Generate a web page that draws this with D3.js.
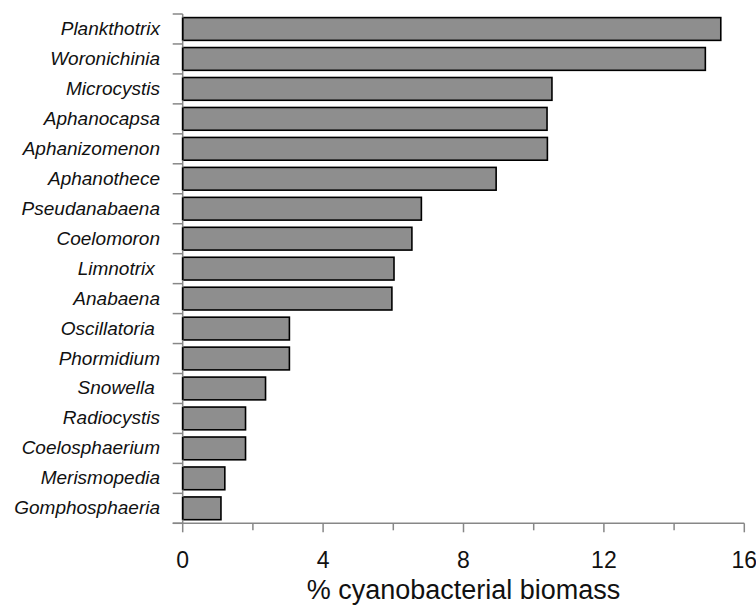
<!DOCTYPE html>
<html>
<head>
<meta charset="utf-8">
<script src="https://cdn.jsdelivr.net/npm/d3@7"></script>
<style>
  html, body { margin: 0; padding: 0; background: #fff; }
  svg { display: block; font-family: "Liberation Sans", Arial, sans-serif; }
</style>
</head>
<body>
<svg id="chart" width="756" height="606"></svg>
<script>
const categories = ["Plankthotrix", "Woronichinia", "Microcystis", "Aphanocapsa", "Aphanizomenon",
  "Aphanothece", "Pseudanabaena", "Coelomoron", "Limnotrix\u00a0", "Anabaena", "Oscillatoria\u00a0",
  "Phormidium", "Snowella\u00a0", "Radiocystis", "Coelosphaerium", "Merismopedia", "Gomphosphaeria"];
const values = [15.33, 14.89, 10.52, 10.38, 10.39, 8.93, 6.80, 6.53, 6.02, 5.96, 3.04, 3.04, 2.36, 1.79, 1.79, 1.20, 1.09];
const majorTicks = [0, 4, 8, 12, 16];
const minorTicks = [2, 6, 10, 14];
const xTitle = "% cyanobacterial biomass";

(function () {
const svg = d3.select("#chart");
const mLeft = 182.7, mRight = 744.3, mTop = 14, mBottom = 523.3;
const axisColor = "#878787";

const x = d3.scaleLinear().domain([0, 16]).range([mLeft, mRight]);
const y = d3.scaleBand().domain(categories).range([mTop, mBottom]).paddingInner(0.24).paddingOuter(0.12);

// bars
svg.append("g").selectAll("rect").data(categories).join("rect")
  .attr("x", x(0))
  .attr("y", d => y(d))
  .attr("width", (d, i) => x(values[i]) - x(0))
  .attr("height", y.bandwidth())
  .attr("fill", "#8e8e8e")
  .attr("stroke", "#000")
  .attr("stroke-width", 1.6);

// y axis line and ticks at band boundaries
const step = (mBottom - mTop) / categories.length;
const yAxis = svg.append("g");
yAxis.append("line").attr("x1", mLeft).attr("x2", mLeft).attr("y1", mTop).attr("y2", mBottom)
  .attr("stroke", axisColor).attr("stroke-width", 1.5);
yAxis.selectAll("line.tick").data(d3.range(categories.length + 1)).join("line")
  .attr("class", "tick")
  .attr("x1", mLeft - 10).attr("x2", mLeft)
  .attr("y1", i => mTop + i * step).attr("y2", i => mTop + i * step)
  .attr("stroke", axisColor).attr("stroke-width", 1.5);
// bar left edges over the axis
svg.append("g").selectAll("line").data(categories).join("line")
  .attr("x1", x(0)).attr("x2", x(0))
  .attr("y1", d => y(d)).attr("y2", d => y(d) + y.bandwidth())
  .attr("stroke", "#000").attr("stroke-width", 1.6);

// category labels
svg.append("g").selectAll("text").data(categories).join("text")
  .attr("x", 160)
  .attr("y", d => y(d) + y.bandwidth() / 2 + 6)
  .attr("text-anchor", "end")
  .attr("font-style", "italic")
  .attr("font-size", 19)
  .attr("fill", "#111")
  .style("white-space", "pre")
  .text(d => d);

// x axis
const xAxis = svg.append("g");
xAxis.append("line").attr("x1", mLeft - 10).attr("x2", mRight).attr("y1", mBottom).attr("y2", mBottom)
  .attr("stroke", axisColor).attr("stroke-width", 1.5);
xAxis.selectAll("line.major").data(majorTicks).join("line")
  .attr("class", "major")
  .attr("x1", d => x(d)).attr("x2", d => x(d))
  .attr("y1", mBottom).attr("y2", mBottom + 9)
  .attr("stroke", axisColor).attr("stroke-width", 1.5);
xAxis.selectAll("line.minor").data(minorTicks).join("line")
  .attr("class", "minor")
  .attr("x1", d => x(d)).attr("x2", d => x(d))
  .attr("y1", mBottom).attr("y2", mBottom + 7)
  .attr("stroke", axisColor).attr("stroke-width", 1.5);
xAxis.selectAll("text").data(majorTicks).join("text")
  .attr("x", d => x(d))
  .attr("y", 568)
  .attr("text-anchor", "middle")
  .attr("font-size", 23)
  .attr("fill", "#111")
  .text(d => d);

svg.append("text")
  .attr("x", (mLeft + mRight) / 2)
  .attr("y", 599)
  .attr("text-anchor", "middle")
  .attr("font-size", 27)
  .attr("fill", "#111")
  .text(xTitle);
})();
</script>
</body>
</html>
